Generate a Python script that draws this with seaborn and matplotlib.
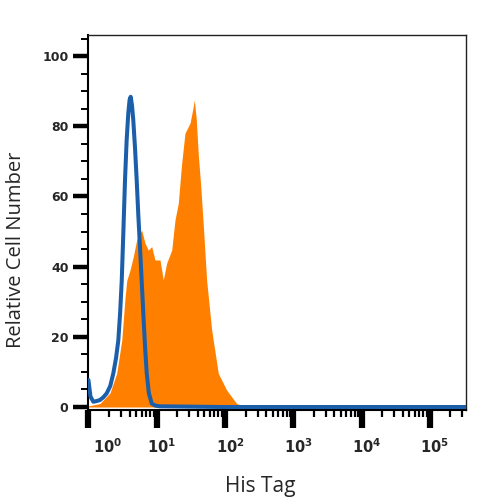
import numpy as np
import pandas as pd
import seaborn as sns
import matplotlib
matplotlib.use("Agg")
import matplotlib.pyplot as plt
from matplotlib.ticker import FixedLocator, NullFormatter
from matplotlib.transforms import ScaledTranslation

# ---- data (x as log10 of fluorescence, y as relative cell number) ----
iso_log = [0.0, 0.03, 0.072, 0.120, 0.170, 0.220, 0.268, 0.320, 0.365, 0.405,
           0.438, 0.465, 0.488, 0.512, 0.536, 0.560, 0.584, 0.603, 0.619, 0.638,
           0.657, 0.682, 0.707, 0.730, 0.755, 0.780, 0.804, 0.830, 0.854, 0.885,
           0.927, 0.980, 1.048, 2.0, 3.0, 4.0, 5.53]
iso_y = [7.7, 3.0, 1.5, 1.7, 2.0, 2.8, 3.9, 6.0, 9.6, 14,
         19, 27, 36, 50, 64.7, 76, 83.7, 87.5, 88.4, 86,
         81.8, 74, 64.7, 55, 45.7, 36, 26.7, 17, 9.6, 4,
         1.0, 0.4, 0.2, 0.0, 0.0, 0.0, 0.0]

his_log = [0.0, 0.17, 0.316, 0.414, 0.488, 0.536, 0.561, 0.609, 0.657, 0.707,
           0.780, 0.829, 0.877, 0.927, 0.975, 1.048, 1.097, 1.146, 1.220, 1.268,
           1.316, 1.366, 1.414, 1.488, 1.530, 1.551, 1.580, 1.609, 1.645, 1.682,
           1.732, 1.805, 1.902, 2.025, 2.171, 2.318, 5.53]
his_y = [0.3, 1.0, 4, 9.6, 19, 31, 36, 39, 42.8, 47.6,
         50.4, 46.7, 44.7, 45.7, 41.9, 41.9, 36.2, 41, 44.7, 53.3,
         58, 69.5, 78, 80.9, 85, 87.5, 82, 72, 63, 52,
         36, 22, 9.6, 4.8, 1.0, 0.0, 0.0]

y_ticks = [0, 20, 40, 60, 80, 100]
x_decades = [0, 1, 2, 3, 4, 5]
x_tick_labels = [r"$\mathbf{10^{%d}}$" % d for d in x_decades]

iso = pd.DataFrame({"x": np.power(10.0, iso_log), "y": iso_y})
his = pd.DataFrame({"x": np.power(10.0, his_log), "y": his_y})

sns.set_style("white")
plt.rcParams["font.family"] = ["DejaVu Sans"]

fig = plt.figure(figsize=(5, 5), dpi=100)
ax = fig.add_axes([0.176, 0.18, 0.756, 0.75])

orange = "#FF8000"
blue = "#1B5FAA"

ax.fill_between(his["x"], his["y"], 0, color=orange, linewidth=0, zorder=2)
sns.lineplot(data=iso, x="x", y="y", ax=ax, color=blue, linewidth=2.9,
             zorder=3, estimator=None, sort=False,
             solid_joinstyle="round", solid_capstyle="round")

ax.set_xscale("log")
ax.set_xlim(10 ** -0.006, 10 ** 5.53)
ax.set_ylim(-0.85, 106)

# y ticks
ax.set_yticks(y_ticks)
ax.set_yticklabels([str(v) for v in y_ticks], fontsize=9, fontweight="bold")
ax.yaxis.set_minor_locator(FixedLocator(np.arange(5, 106, 5)))
ax.tick_params(axis="y", which="major", length=11, width=3.2, color="black",
               pad=3, left=True)
ax.tick_params(axis="y", which="minor", length=5, width=1.4, color="black", left=True)

# x ticks
ax.set_xticks([10.0 ** d for d in x_decades])
ax.set_xticklabels(x_tick_labels, fontsize=10.5)
minors = [m * 10.0 ** d for d in range(0, 6) for m in range(2, 10)]
minors = [v for v in minors if v < 10 ** 5.53]
ax.xaxis.set_minor_locator(FixedLocator(minors))
ax.xaxis.set_minor_formatter(NullFormatter())
ax.tick_params(axis="x", which="major", length=13, width=4.5, color="black",
               pad=7, bottom=True)
ax.tick_params(axis="x", which="minor", length=5, width=1.6, color="black", bottom=True)

# shift x tick labels slightly right like the reference
for i, tick in enumerate(ax.xaxis.get_major_ticks()):
    dx = 19 if i == 0 else 5
    tick.label1.set_transform(tick.label1.get_transform() +
                              ScaledTranslation(dx / 100, 0, fig.dpi_scale_trans))

for side in ["top", "right"]:
    ax.spines[side].set_linewidth(1.0)
    ax.spines[side].set_color("#222222")
ax.spines["left"].set_linewidth(1.5)
ax.spines["left"].set_color("black")
ax.spines["bottom"].set_linewidth(1.5)
ax.spines["bottom"].set_color("black")

ax.set_xlabel("His Tag", fontsize=15, family=["Open Sans", "DejaVu Sans"])
ax.set_ylabel("Relative Cell Number", fontsize=14.5, family=["Open Sans", "DejaVu Sans"])
ax.xaxis.set_label_coords((260 - 88) / 378, (410 - 476) / 375)
ax.yaxis.set_label_coords((16 - 88) / 378, (410 - 250) / 375)
ax.yaxis.label.set_va("center")

fig.savefig("out.png", dpi=100)
